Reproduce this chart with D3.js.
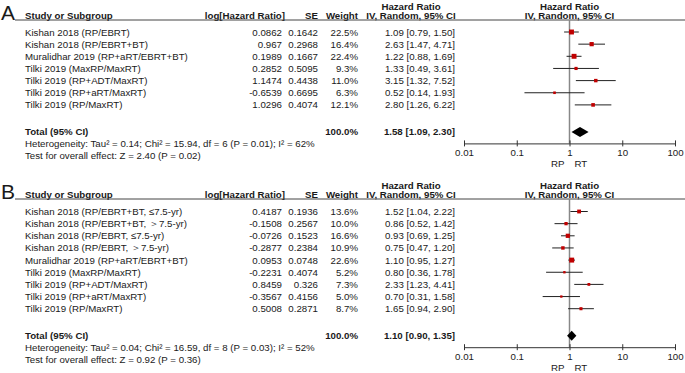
<!DOCTYPE html>
<html>
<head>
<meta charset="utf-8">
<script src="https://cdn.jsdelivr.net/npm/d3@7"></script>
<style>
  html, body { margin: 0; padding: 0; background: #fff; }
  svg { display: block; }
  text { font-family: "Liberation Sans", Arial, sans-serif; fill: #1a1a1a; }
</style>
</head>
<body>
<svg id="chart" width="685" height="373"></svg>
<script>
// ---------------- DATA ----------------
const tickLabels = ["0.01", "0.1", "1", "10", "100"];
const tickValues = [0.01, 0.1, 1, 10, 100];

// Panel A
const studiesA = ["Kishan 2018 (RP/EBRT)", "Kishan 2018 (RP/EBRT+BT)", "Muralidhar 2019 (RP+aRT/EBRT+BT)",
  "Tilki 2019 (MaxRP/MaxRT)", "Tilki 2019 (RP+ADT/MaxRT)", "Tilki 2019 (RP+aRT/MaxRT)", "Tilki 2019 (RP/MaxRT)"];
const logHRA = ["0.0862", "0.967", "0.1989", "0.2852", "1.1474", "-0.6539", "1.0296"];
const seA = ["0.1642", "0.2968", "0.1667", "0.5095", "0.4438", "0.6695", "0.4074"];
const weightA = [22.5, 16.4, 22.4, 9.3, 11.0, 6.3, 12.1];
const hrA = [1.09, 2.63, 1.22, 1.33, 3.15, 0.52, 2.80];
const loA = [0.79, 1.47, 0.88, 0.49, 1.32, 0.14, 1.26];
const hiA = [1.50, 4.71, 1.69, 3.61, 7.52, 1.93, 6.22];
const totalA = { hr: 1.58, lo: 1.09, hi: 2.30 };
const hetA = "Heterogeneity: Tau² = 0.14; Chi² = 15.94, df = 6 (P = 0.01); I² = 62%";
const testA = "Test for overall effect: Z = 2.40 (P = 0.02)";

// Panel B
const studiesB = ["Kishan 2018 (RP/EBRT+BT, ≤7.5-yr)", "Kishan 2018 (RP/EBRT+BT, ＞7.5-yr)",
  "Kishan 2018 (RP/EBRT, ≤7.5-yr)", "Kishan 2018 (RP/EBRT, ＞7.5-yr)", "Muralidhar 2019 (RP+aRT/EBRT+BT)",
  "Tilki 2019 (MaxRP/MaxRT)", "Tilki 2019 (RP+ADT/MaxRT)", "Tilki 2019 (RP+aRT/MaxRT)", "Tilki 2019 (RP/MaxRT)"];
const logHRB = ["0.4187", "-0.1508", "-0.0726", "-0.2877", "0.0953", "-0.2231", "0.8459", "-0.3567", "0.5008"];
const seB = ["0.1936", "0.2567", "0.1523", "0.2384", "0.0748", "0.4074", "0.326", "0.4156", "0.2871"];
const weightB = [13.6, 10.0, 16.6, 10.9, 22.6, 5.2, 7.3, 5.0, 8.7];
const hrB = [1.52, 0.86, 0.93, 0.75, 1.10, 0.80, 2.33, 0.70, 1.65];
const loB = [1.04, 0.52, 0.69, 0.47, 0.95, 0.36, 1.23, 0.31, 0.94];
const hiB = [2.22, 1.42, 1.25, 1.20, 1.27, 1.78, 4.41, 1.58, 2.90];
const totalB = { hr: 1.10, lo: 0.90, hi: 1.35 };
const hetB = "Heterogeneity: Tau² = 0.04; Chi² = 16.59, df = 8 (P = 0.03); I² = 52%";
const testB = "Test for overall effect: Z = 0.92 (P = 0.36)";

// ---------------- DRAW ----------------
const svg = d3.select("#chart");
const FS = 9.7;
const BL = 3.5; // baseline offset from row centre
const rowH = 12.15;
const x = d3.scaleLog().domain([0.01, 100]).range([464, 675]);

const col = { name: 25, logHR: 282, se: 318, weight: 358, ci: 455, ciHead: 411 };
const f2 = d3.format(".2f");
const f1 = d3.format(".1f");

function drawPanel(label, top, firstRow, studies, logHR, se, weight, hr, lo, hi, total, het, test) {
  const g = svg.append("g");
  g.append("text").attr("x", 1).attr("y", top + 17.5).style("font-size", "21px").text(label);
  const h1 = top + 7, h2 = top + 16.5, rule = top + 17.5;
  const bold = sel => sel.style("font-weight", "bold").style("font-size", FS + "px");
  bold(g.append("text").attr("x", col.ciHead).attr("y", h1).attr("text-anchor", "middle").text("Hazard Ratio"));
  bold(g.append("text").attr("x", x(1)).attr("y", h1).attr("text-anchor", "middle").text("Hazard Ratio"));
  bold(g.append("text").attr("x", col.name).attr("y", h2).text("Study or Subgroup"));
  bold(g.append("text").attr("x", col.logHR + 3).attr("y", h2).attr("text-anchor", "end").text("log[Hazard Ratio]"));
  bold(g.append("text").attr("x", col.se).attr("y", h2).attr("text-anchor", "end").text("SE"));
  bold(g.append("text").attr("x", col.weight).attr("y", h2).attr("text-anchor", "end").text("Weight"));
  bold(g.append("text").attr("x", col.ciHead).attr("y", h2).attr("text-anchor", "middle").text("IV, Random, 95% CI"));
  bold(g.append("text").attr("x", x(1)).attr("y", h2).attr("text-anchor", "middle").text("IV, Random, 95% CI"));
  g.append("line").attr("x1", 15).attr("x2", 685).attr("y1", rule).attr("y2", rule)
    .attr("stroke", "#444").attr("stroke-width", 1);

  const yRow = i => firstRow + i * rowH;
  const n = studies.length;
  const yTotal = yRow(n - 1) + 27;
  const yAxis = yTotal + 11.5;

  g.append("line").attr("x1", x(1)).attr("x2", x(1)).attr("y1", rule).attr("y2", yAxis)
    .attr("stroke", "#888").attr("stroke-width", 1.5);

  const rows = g.selectAll("g.row").data(studies.map((s, i) => ({
    s, lg: logHR[i], se: se[i], w: weight[i], hr: hr[i], lo: lo[i], hi: hi[i], y: yRow(i)
  }))).join("g").attr("class", "row");
  const txt = (sel, xx, anchor, fn) => sel.append("text").attr("x", xx).attr("y", d => d.y + BL)
    .attr("text-anchor", anchor).style("font-size", FS + "px").text(fn);
  txt(rows, col.name, "start", d => d.s);
  txt(rows, col.logHR, "end", d => d.lg);
  txt(rows, col.se, "end", d => d.se);
  txt(rows, col.weight, "end", d => f1(d.w) + "%");
  txt(rows, col.ci, "end", d => `${f2(d.hr)} [${f2(d.lo)}, ${f2(d.hi)}]`);
  rows.append("line").attr("x1", d => x(d.lo)).attr("x2", d => x(d.hi))
    .attr("y1", d => d.y).attr("y2", d => d.y).attr("stroke", "#222").attr("stroke-width", 1);
  rows.append("rect")
    .attr("x", d => x(d.hr) - Math.sqrt(d.w) * 0.52)
    .attr("y", d => d.y - Math.sqrt(d.w) * 0.52)
    .attr("width", d => Math.sqrt(d.w) * 1.04)
    .attr("height", d => Math.sqrt(d.w) * 1.04)
    .attr("fill", "#c00000");

  bold(g.append("text").attr("x", col.name).attr("y", yTotal + BL).text("Total (95% CI)"));
  bold(g.append("text").attr("x", col.weight).attr("y", yTotal + BL).attr("text-anchor", "end").text("100.0%"));
  bold(g.append("text").attr("x", col.ci).attr("y", yTotal + BL).attr("text-anchor", "end")
    .text(`${f2(total.hr)} [${f2(total.lo)}, ${f2(total.hi)}]`));
  const dh = 5;
  g.append("path").attr("d", `M${x(total.lo)},${yTotal} L${x(total.hr)},${yTotal - dh} L${x(total.hi)},${yTotal} L${x(total.hr)},${yTotal + dh} Z`)
    .attr("fill", "#000");

  g.append("text").attr("x", col.name).attr("y", yTotal + 12 + BL).style("font-size", FS + "px").text(het);
  g.append("text").attr("x", col.name).attr("y", yTotal + 24 + BL).style("font-size", FS + "px").text(test);

  const axis = d3.axisBottom(x).tickValues(tickValues).tickFormat((d, i) => tickLabels[i]).tickSize(3).tickSizeOuter(0);
  const ag = g.append("g").attr("transform", `translate(0,${yAxis})`).call(axis);
  ag.select(".domain").attr("stroke", "#333").attr("stroke-width", 1);
  ag.selectAll(".tick line").attr("y1", -3).attr("y2", 3).attr("stroke", "#333");
  ag.selectAll(".tick text").attr("y", 6).style("font-size", FS + "px").style("font-family", "Liberation Sans, Arial, sans-serif").attr("fill", "#1a1a1a");
  g.append("text").attr("x", x(1) - 5).attr("y", yAxis + 23.5).attr("text-anchor", "end").style("font-size", FS + "px").text("RP");
  g.append("text").attr("x", x(1) + 5).attr("y", yAxis + 23.5).attr("text-anchor", "start").style("font-size", FS + "px").text("RT");
}

drawPanel("A", 2.5, 32, studiesA, logHRA, seA, weightA, hrA, loA, hiA, totalA, hetA, testA);
drawPanel("B", 181.5, 211.5, studiesB, logHRB, seB, weightB, hrB, loB, hiB, totalB, hetB, testB);
</script>
</body>
</html>
